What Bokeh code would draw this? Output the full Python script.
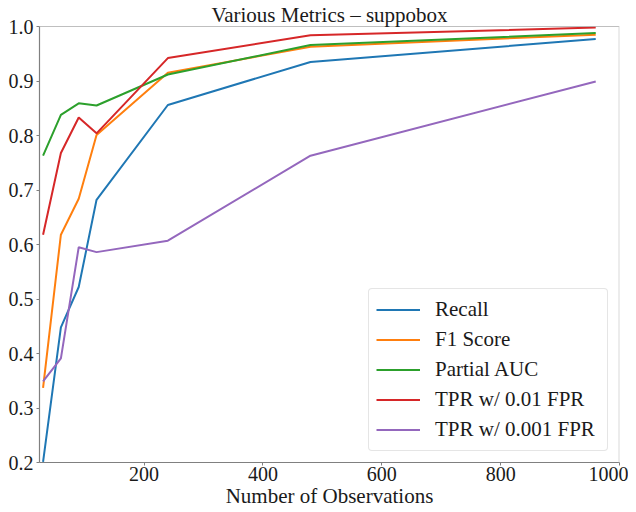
from bokeh.plotting import figure
from bokeh.models import Range1d, FixedTicker, Legend, LegendItem, Span
from bokeh.embed import file_html
from bokeh.resources import INLINE

# ---- data ----
observations = [30, 60, 90, 120, 240, 480, 960]
recall = [0.201, 0.448, 0.522, 0.682, 0.856, 0.935, 0.977]
f1_score = [0.337, 0.618, 0.684, 0.801, 0.915, 0.963, 0.985]
partial_auc = [0.763, 0.838, 0.859, 0.855, 0.912, 0.966, 0.988]
tpr_001 = [0.618, 0.768, 0.833, 0.804, 0.942, 0.984, 0.998]
tpr_0001 = [0.349, 0.391, 0.595, 0.586, 0.607, 0.763, 0.899]

series_names = ["Recall", "F1 Score", "Partial AUC", "TPR w/ 0.01 FPR", "TPR w/ 0.001 FPR"]
series_values = [recall, f1_score, partial_auc, tpr_001, tpr_0001]
series_colors = ["#1f77b4", "#ff7f0e", "#2ca02c", "#d62728", "#9467bd"]

x_ticks = [200, 400, 600, 800, 1000]
y_ticks = [0.2, 0.3, 0.4, 0.5, 0.6, 0.7, 0.8, 0.9, 1.0]
y_tick_labels = ["0.2", "0.3", "0.4", "0.5", "0.6", "0.7", "0.8", "0.9", "1.0"]
title_text = "Various Metrics \u2013 suppobox"
x_label = "Number of Observations"

FONT = "Liberation Serif"
TXT = "#1a1a1a"
SPINE = "#808080"

p = figure(width=628, height=510, output_backend="svg", toolbar_location=None,
           x_range=Range1d(24, 1000), y_range=Range1d(0.2, 1.0),
           min_border_left=39, min_border_right=9, min_border_top=20, min_border_bottom=20,
           title=title_text)
p.title.text_font = FONT
p.title.text_font_size = "21px"
p.title.text_font_style = "normal"
p.title.text_color = TXT
p.title.align = "center"
p.title.standoff = 0
p.title.offset = 0

p.outline_line_color = None
p.xgrid.visible = False
p.ygrid.visible = False
p.background_fill_color = "white"
p.border_fill_color = "white"

for ax in (p.xaxis[0], p.yaxis[0]):
    ax.axis_line_color = SPINE
    ax.axis_line_width = 1.2
    ax.major_tick_line_color = SPINE
    ax.major_tick_in = 0
    ax.major_tick_out = 3
    ax.minor_tick_line_color = None
    ax.major_label_text_font = FONT
    ax.major_label_text_font_size = "20px"
    ax.major_label_text_color = TXT
    ax.major_label_standoff = 3

p.xaxis[0].major_label_standoff = 1
p.xaxis[0].ticker = FixedTicker(ticks=x_ticks)
p.yaxis[0].ticker = FixedTicker(ticks=y_ticks)
p.yaxis[0].major_label_overrides = {t: l for t, l in zip(y_ticks, y_tick_labels)}
p.xaxis[0].axis_label = x_label
p.xaxis[0].axis_label_text_font = FONT
p.xaxis[0].axis_label_text_font_size = "21px"
p.xaxis[0].axis_label_text_font_style = "normal"
p.xaxis[0].axis_label_text_color = TXT
p.xaxis[0].axis_label_standoff = 0

# top and right spines
p.add_layout(Span(location=1.0, dimension="width", line_color=SPINE, line_width=1.2))
p.add_layout(Span(location=1000, dimension="height", line_color="#d9d9d9", line_width=2))

items = []
for name, vals, col in zip(series_names, series_values, series_colors):
    r = p.line(observations, vals, line_color=col, line_width=2)
    items.append(LegendItem(label=name, renderers=[r]))

legend = Legend(items=items, location="bottom_right")
legend.label_text_font = FONT
legend.label_text_font_size = "21px"
legend.label_text_color = TXT
legend.glyph_width = 44
legend.glyph_height = 27
legend.label_height = 27
legend.label_width = 165
legend.spacing = 3
legend.padding = 7
legend.label_standoff = 15
legend.margin = 11
legend.border_line_color = "#cccccc"
legend.border_line_width = 1
legend.border_radius = 4
legend.background_fill_alpha = 0.85
p.add_layout(legend)

open("out.html", "w").write(file_html(p, INLINE))
